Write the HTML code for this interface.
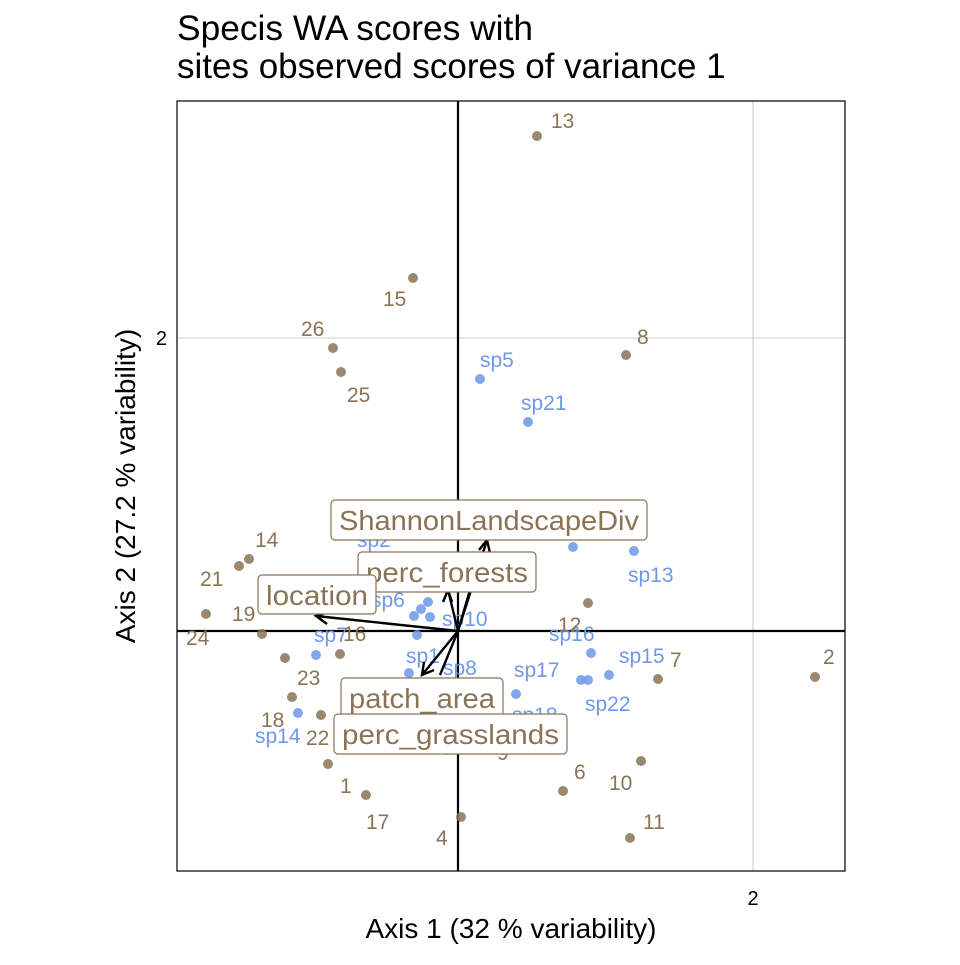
<!DOCTYPE html>
<html><head><style>body{margin:0;background:#fff}</style></head><body>
<svg width="960" height="960" xmlns="http://www.w3.org/2000/svg" font-family="Liberation Sans, sans-serif">
<rect width="960" height="960" fill="#fff"/>
<text x="177" y="40" font-size="35" textLength="356" lengthAdjust="spacingAndGlyphs">Specis WA scores with</text>
<text x="177" y="78" font-size="35">sites observed scores of variance 1</text>
<line x1="753" y1="101" x2="753" y2="871" stroke="#bbb" stroke-width="0.8"/>
<line x1="177" y1="338" x2="845" y2="338" stroke="#bbb" stroke-width="0.8"/>
<line x1="458" y1="101" x2="458" y2="871" stroke="#000" stroke-width="2.2"/>
<line x1="177" y1="631" x2="845" y2="631" stroke="#000" stroke-width="2.2"/>
<rect x="177" y="101" width="668" height="770" fill="none" stroke="#000" stroke-width="1.2"/>
<text x="753" y="905" font-size="20" text-anchor="middle">2</text>
<text x="167" y="345" font-size="20" text-anchor="end">2</text>
<text x="511" y="938" font-size="28" text-anchor="middle">Axis 1 (32 % variability)</text>
<text transform="translate(135,486) rotate(-90)" font-size="28" text-anchor="middle">Axis 2 (27.2 % variability)</text>
<g fill="#6f98e8" fill-opacity="0.85">
<circle cx="480" cy="379" r="5"/><circle cx="528" cy="422" r="5"/><circle cx="634" cy="551" r="5"/><circle cx="573" cy="547" r="5"/>
<circle cx="414" cy="616" r="5"/><circle cx="421" cy="609" r="5"/><circle cx="428" cy="602" r="5"/><circle cx="430" cy="617" r="5"/>
<circle cx="316" cy="655" r="5"/><circle cx="417" cy="635" r="5"/><circle cx="409" cy="673" r="5"/><circle cx="516" cy="694" r="5"/>
<circle cx="591" cy="653" r="5"/><circle cx="609" cy="675" r="5"/><circle cx="581" cy="680" r="5"/><circle cx="588" cy="680" r="5"/>
<circle cx="298" cy="713" r="5"/><circle cx="447" cy="750" r="5"/>
</g>
<g fill="#6f98e8" font-size="21">
<text x="480" y="367">sp5</text><text x="521" y="410">sp21</text><text x="628" y="582">sp13</text>
<text x="357" y="547">sp2</text><text x="371" y="607">sp6</text><text x="442" y="626">sp10</text>
<text x="314" y="642">sp7</text><text x="406" y="663">sp1</text><text x="443" y="675">sp8</text>
<text x="514" y="677">sp17</text><text x="549" y="641">sp16</text><text x="619" y="663">sp15</text>
<text x="585" y="711">sp22</text><text x="255" y="743">sp14</text><text x="512" y="722">sp18</text>
</g>
<g fill="#8b7355" fill-opacity="0.85">
<circle cx="537" cy="136" r="5"/><circle cx="413" cy="278" r="5"/><circle cx="333" cy="348" r="5"/><circle cx="341" cy="372" r="5"/>
<circle cx="626" cy="355" r="5"/><circle cx="249" cy="559" r="5"/><circle cx="239" cy="566" r="5"/><circle cx="206" cy="614" r="5"/>
<circle cx="262" cy="634" r="5"/><circle cx="340" cy="654" r="5"/><circle cx="285" cy="658" r="5"/><circle cx="292" cy="697" r="5"/>
<circle cx="321" cy="715" r="5"/><circle cx="328" cy="764" r="5"/><circle cx="366" cy="795" r="5"/><circle cx="461" cy="817" r="5"/>
<circle cx="563" cy="791" r="5"/><circle cx="641" cy="761" r="5"/><circle cx="630" cy="838" r="5"/><circle cx="658" cy="679" r="5"/>
<circle cx="815" cy="677" r="5"/><circle cx="588" cy="603" r="5"/>
</g>
<g fill="#8b7355" font-size="21">
<text x="551" y="128">13</text><text x="383" y="306">15</text><text x="301" y="336">26</text><text x="347" y="402">25</text>
<text x="637" y="344">8</text><text x="255" y="547">14</text><text x="200" y="586">21</text><text x="186" y="645">24</text>
<text x="232" y="621">19</text><text x="343" y="641">16</text><text x="297" y="685">23</text><text x="261" y="727">18</text>
<text x="306" y="745">22</text><text x="340" y="793">1</text><text x="366" y="829">17</text><text x="436" y="845">4</text>
<text x="574" y="779">6</text><text x="609" y="790">10</text><text x="643" y="829">11</text><text x="670" y="667">7</text>
<text x="823" y="664">2</text><text x="558" y="632">12</text><text x="497" y="760">9</text>
</g>
<g stroke="#000" stroke-width="2.4" fill="none">
<line x1="458" y1="631" x2="316" y2="616"/><polyline points="329,612 316,616 327,624"/>
<line x1="458" y1="631" x2="448" y2="590"/><polyline points="443,602 448,590 452,602"/>
<line x1="458" y1="631" x2="470" y2="590"/>
<line x1="458" y1="631" x2="487" y2="540"/><polyline points="479,550 487,540 490,553"/>
<line x1="458" y1="631" x2="422" y2="675"/><polyline points="424,662 422,675 434,670"/>
<line x1="458" y1="631" x2="440" y2="675"/>
</g>
<g font-size="28" fill="#8b7355">
<rect x="331" y="500" width="316" height="40" rx="4" fill="#fff" stroke="#8b7355" stroke-width="1.2"/><text x="339" y="530" textLength="300" lengthAdjust="spacingAndGlyphs">ShannonLandscapeDiv</text>
<rect x="358" y="552" width="178" height="40" rx="4" fill="#fff" stroke="#8b7355" stroke-width="1.2"/><text x="366" y="582" textLength="162" lengthAdjust="spacingAndGlyphs">perc_forests</text>
<rect x="258" y="575" width="118" height="39" rx="4" fill="#fff" stroke="#8b7355" stroke-width="1.2"/><text x="266" y="605" textLength="102" lengthAdjust="spacingAndGlyphs">location</text>
<rect x="341" y="678" width="162" height="40" rx="4" fill="#fff" stroke="#8b7355" stroke-width="1.2"/><text x="349" y="708" textLength="146" lengthAdjust="spacingAndGlyphs">patch_area</text>
<rect x="334" y="714" width="233" height="40" rx="4" fill="#fff" stroke="#8b7355" stroke-width="1.2"/><text x="342" y="744" textLength="217" lengthAdjust="spacingAndGlyphs">perc_grasslands</text>
</g>
</svg>
</body></html>
